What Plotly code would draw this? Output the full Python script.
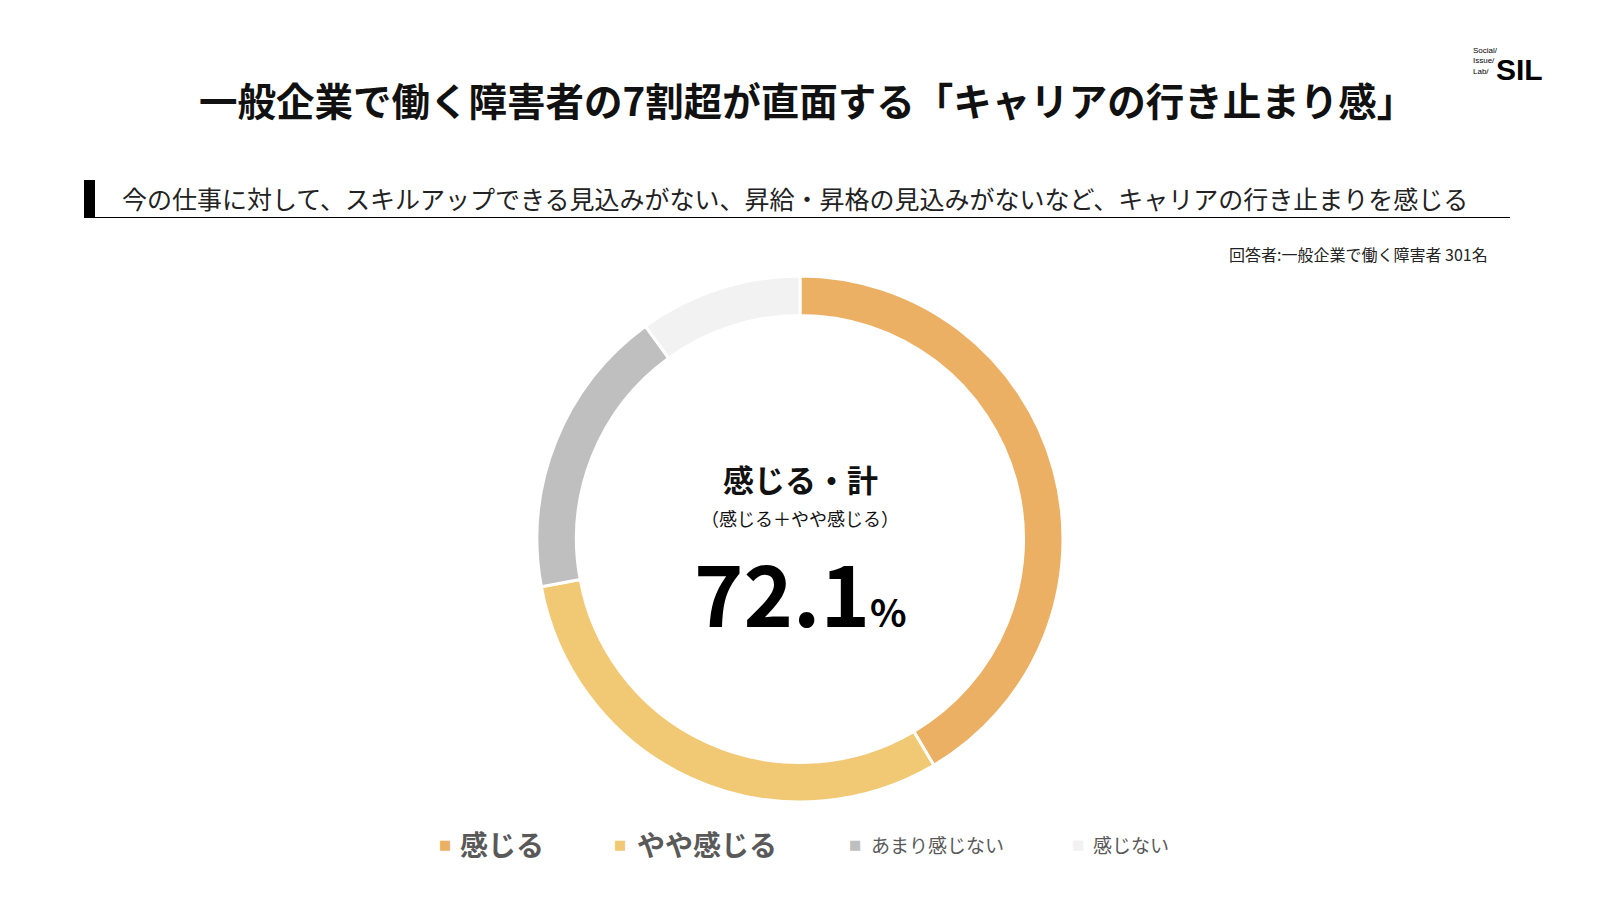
import plotly.graph_objects as go

categories = ["感じる", "やや感じる", "あまり感じない", "感じない"]
values = [41.5, 30.6, 17.9, 10.0]
colors = ["#EBB064", "#F1C975", "#BFBFBF", "#F2F2F2"]
total_label = "72.1"

W, H = 1600, 900
FONT = "Noto Sans CJK JP"

def px(x):
    return x / W

def py(y):
    return 1 - y / H

cx, cy, r = 800, 539, 263

fig = go.Figure()
fig.add_trace(go.Pie(
    labels=categories,
    values=values,
    marker=dict(colors=colors, line=dict(color="white", width=3)),
    hole=0.85,
    sort=False,
    direction="clockwise",
    rotation=0,
    textinfo="none",
    hoverinfo="label+percent",
    showlegend=False,
    domain=dict(x=[px(cx - r), px(cx + r)], y=[py(cy + r), py(cy - r)]),
))

ann = []
# Title
ann.append(dict(x=px(807), y=py(99), text="<b>一般企業で働く障害者の7割超が直面する「キャリアの行き止まり感」</b>",
                font=dict(family=FONT, size=38.5, color="#111111"), xanchor="center", yanchor="middle"))
# Subtitle
ann.append(dict(x=px(120), y=py(198), text="今の仕事に対して、スキルアップできる見込みがない、昇給・昇格の見込みがないなど、キャリアの行き止まりを感じる",
                font=dict(family=FONT, size=25, color="#222222"), xanchor="left", yanchor="middle"))
# Respondents
ann.append(dict(x=px(1490), y=py(254), text="回答者:一般企業で働く障害者 301名",
                font=dict(family=FONT, size=16, color="#222222"), xanchor="right", yanchor="middle"))
# Logo
ann.append(dict(x=px(1494), y=py(69), text="<b>SIL</b>",
                font=dict(family="Liberation Sans", size=30, color="#000000"), xanchor="left", yanchor="middle"))
ann.append(dict(x=px(1471), y=py(61), text="Social/<br>Issue/<br>Lab/",
                font=dict(family="Liberation Sans", size=8, color="#000000"), xanchor="left", yanchor="middle", align="left"))
# Center text
ann.append(dict(x=px(800), y=py(478), text="<b>感じる・計</b>",
                font=dict(family=FONT, size=31, color="#111111"), xanchor="center", yanchor="middle", borderpad=0))
ann.append(dict(x=px(800), y=py(518), text="（感じる＋やや感じる）",
                font=dict(family=FONT, size=18, color="#111111"), xanchor="center", yanchor="middle", borderpad=0))
ann.append(dict(x=px(800), y=py(590), text=f"<b>{total_label}</b><span style='font-size:38px'><b>%</b></span>",
                font=dict(family=FONT, size=84, color="#000000"), xanchor="center", yanchor="middle", borderpad=0))

# Legend
leg = [
    (445, 458, 28, True),
    (620, 635, 28, True),
    (855, 869, 19, False),
    (1078, 1091, 19, False),
]
for (mx, tx, fs, bold), name, col in zip(leg, categories, colors):
    ann.append(dict(x=px(mx), y=py(844), text="■", font=dict(family="DejaVu Sans", size=13, color=col),
                    xanchor="center", yanchor="middle"))
    label = f"<b>{name}</b>" if bold else name
    ann.append(dict(x=px(tx), y=py(844), text=label, font=dict(family=FONT, size=fs, color="#595959"),
                    xanchor="left", yanchor="middle"))

for a in ann:
    a.update(xref="paper", yref="paper", showarrow=False)

shapes = [
    dict(type="rect", xref="paper", yref="paper", x0=px(84), x1=px(95), y0=py(217), y1=py(180),
         fillcolor="#000000", line=dict(width=0)),
    dict(type="line", xref="paper", yref="paper", x0=px(84), x1=px(1510), y0=py(217.5), y1=py(217.5),
         line=dict(color="#000000", width=1)),
]

fig.update_layout(
    width=W, height=H,
    margin=dict(l=0, r=0, t=0, b=0),
    paper_bgcolor="white", plot_bgcolor="white",
    annotations=ann, shapes=shapes,
    showlegend=False,
)

fig.write_html("out.html")
